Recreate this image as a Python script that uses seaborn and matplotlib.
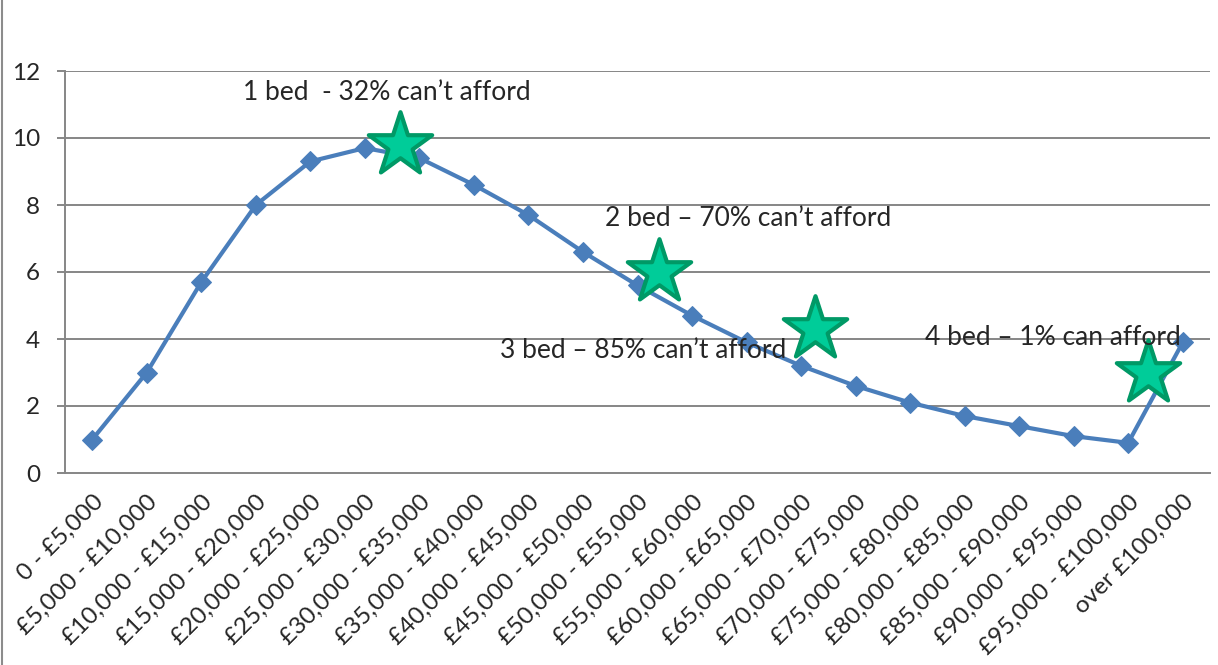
import numpy as np
import pandas as pd
import matplotlib
matplotlib.use("Agg")
import matplotlib.pyplot as plt
import seaborn as sns

# Income bands and share of households (%)
bands = [
    "0 - £5,000", "£5,000 - £10,000", "£10,000 - £15,000", "£15,000 - £20,000",
    "£20,000 - £25,000", "£25,000 - £30,000", "£30,000 - £35,000", "£35,000 - £40,000",
    "£40,000 - £45,000", "£45,000 - £50,000", "£50,000 - £55,000", "£55,000 - £60,000",
    "£60,000 - £65,000", "£65,000 - £70,000", "£70,000 - £75,000", "£75,000 - £80,000",
    "£80,000 - £85,000", "£85,000 - £90,000", "£90,000 - £95,000", "£95,000 - £100,000",
    "over £100,000",
]
share = [1.0, 3.0, 5.7, 8.0, 9.3, 9.7, 9.4, 8.6, 7.7, 6.6, 5.6,
         4.7, 3.9, 3.2, 2.6, 2.1, 1.7, 1.4, 1.1, 0.9, 3.9]

# Star markers (affordability thresholds) in band-index / value units
star_pos = [5.65, 10.4, 13.25, 19.37]
star_val = [9.8, 6.0, 4.3, 3.0]

# Annotation labels
notes = ["1 bed  - 32% can\u2019t afford", "2 bed \u2013 70% can\u2019t afford",
         "3 bed \u2013 85% can\u2019t afford", "4 bed \u2013 1% can afford"]
note_x = [2.77, 9.41, 7.48, 15.28]
note_y = [11.37, 7.6, 3.65, 4.05]

sns.set_style("white")
plt.rcParams["font.family"] = ["Lato", "DejaVu Sans"]

df = pd.DataFrame({"pos": np.arange(len(bands)), "share": share})
stars = pd.DataFrame({"pos": star_pos, "val": star_val})

fig = plt.figure(figsize=(12.18, 6.65), dpi=100)
ax = fig.add_axes([65 / 1218, 192 / 665, 1145 / 1218, 402 / 665])

grid_c = "#868686"
for v in range(2, 13, 2):
    ax.axhline(v, color=grid_c, lw=1.4, zorder=0)

sns.lineplot(data=df, x="pos", y="share", ax=ax, color="#4A7EBB", lw=3.0,
             marker="D", markersize=10.5, markeredgecolor="#4A7EBB", zorder=3)
sns.scatterplot(data=stars, x="pos", y="val", ax=ax, marker="*", s=2300,
                color="#00CC99", edgecolor="#009966", linewidth=3, zorder=4)

for t, x, y in zip(notes, note_x, note_y):
    ax.text(x, y, t, fontsize=19, va="center", ha="left", zorder=5)

ax.set_xlim(-0.5, 20.5)
ax.set_ylim(0, 12)
ax.set_yticks(range(0, 13, 2))
ax.set_xticks(np.arange(len(bands)))
ax.set_xticklabels(bands, rotation=45, ha="right", rotation_mode="anchor")
ax.set_xticks(np.arange(-0.5, 21, 1), minor=True)
ax.tick_params(axis="x", which="major", length=0, pad=13, labelsize=17.5)
ax.tick_params(axis="x", which="minor", length=6, width=1.4, color=grid_c)
ax.tick_params(axis="y", length=6, width=1.4, color=grid_c, pad=12, labelsize=17.5,
               left=True)
ax.set_xlabel("")
ax.set_ylabel("")
for s in ["top", "right"]:
    ax.spines[s].set_visible(False)
for s in ["left", "bottom"]:
    ax.spines[s].set_color(grid_c)
    ax.spines[s].set_linewidth(1.4)

fig.add_artist(plt.Line2D([2 / 1218, 2 / 1218], [0, 1], color="#8c8c8c", lw=1.5))

fig.savefig("out.png", dpi=100)
